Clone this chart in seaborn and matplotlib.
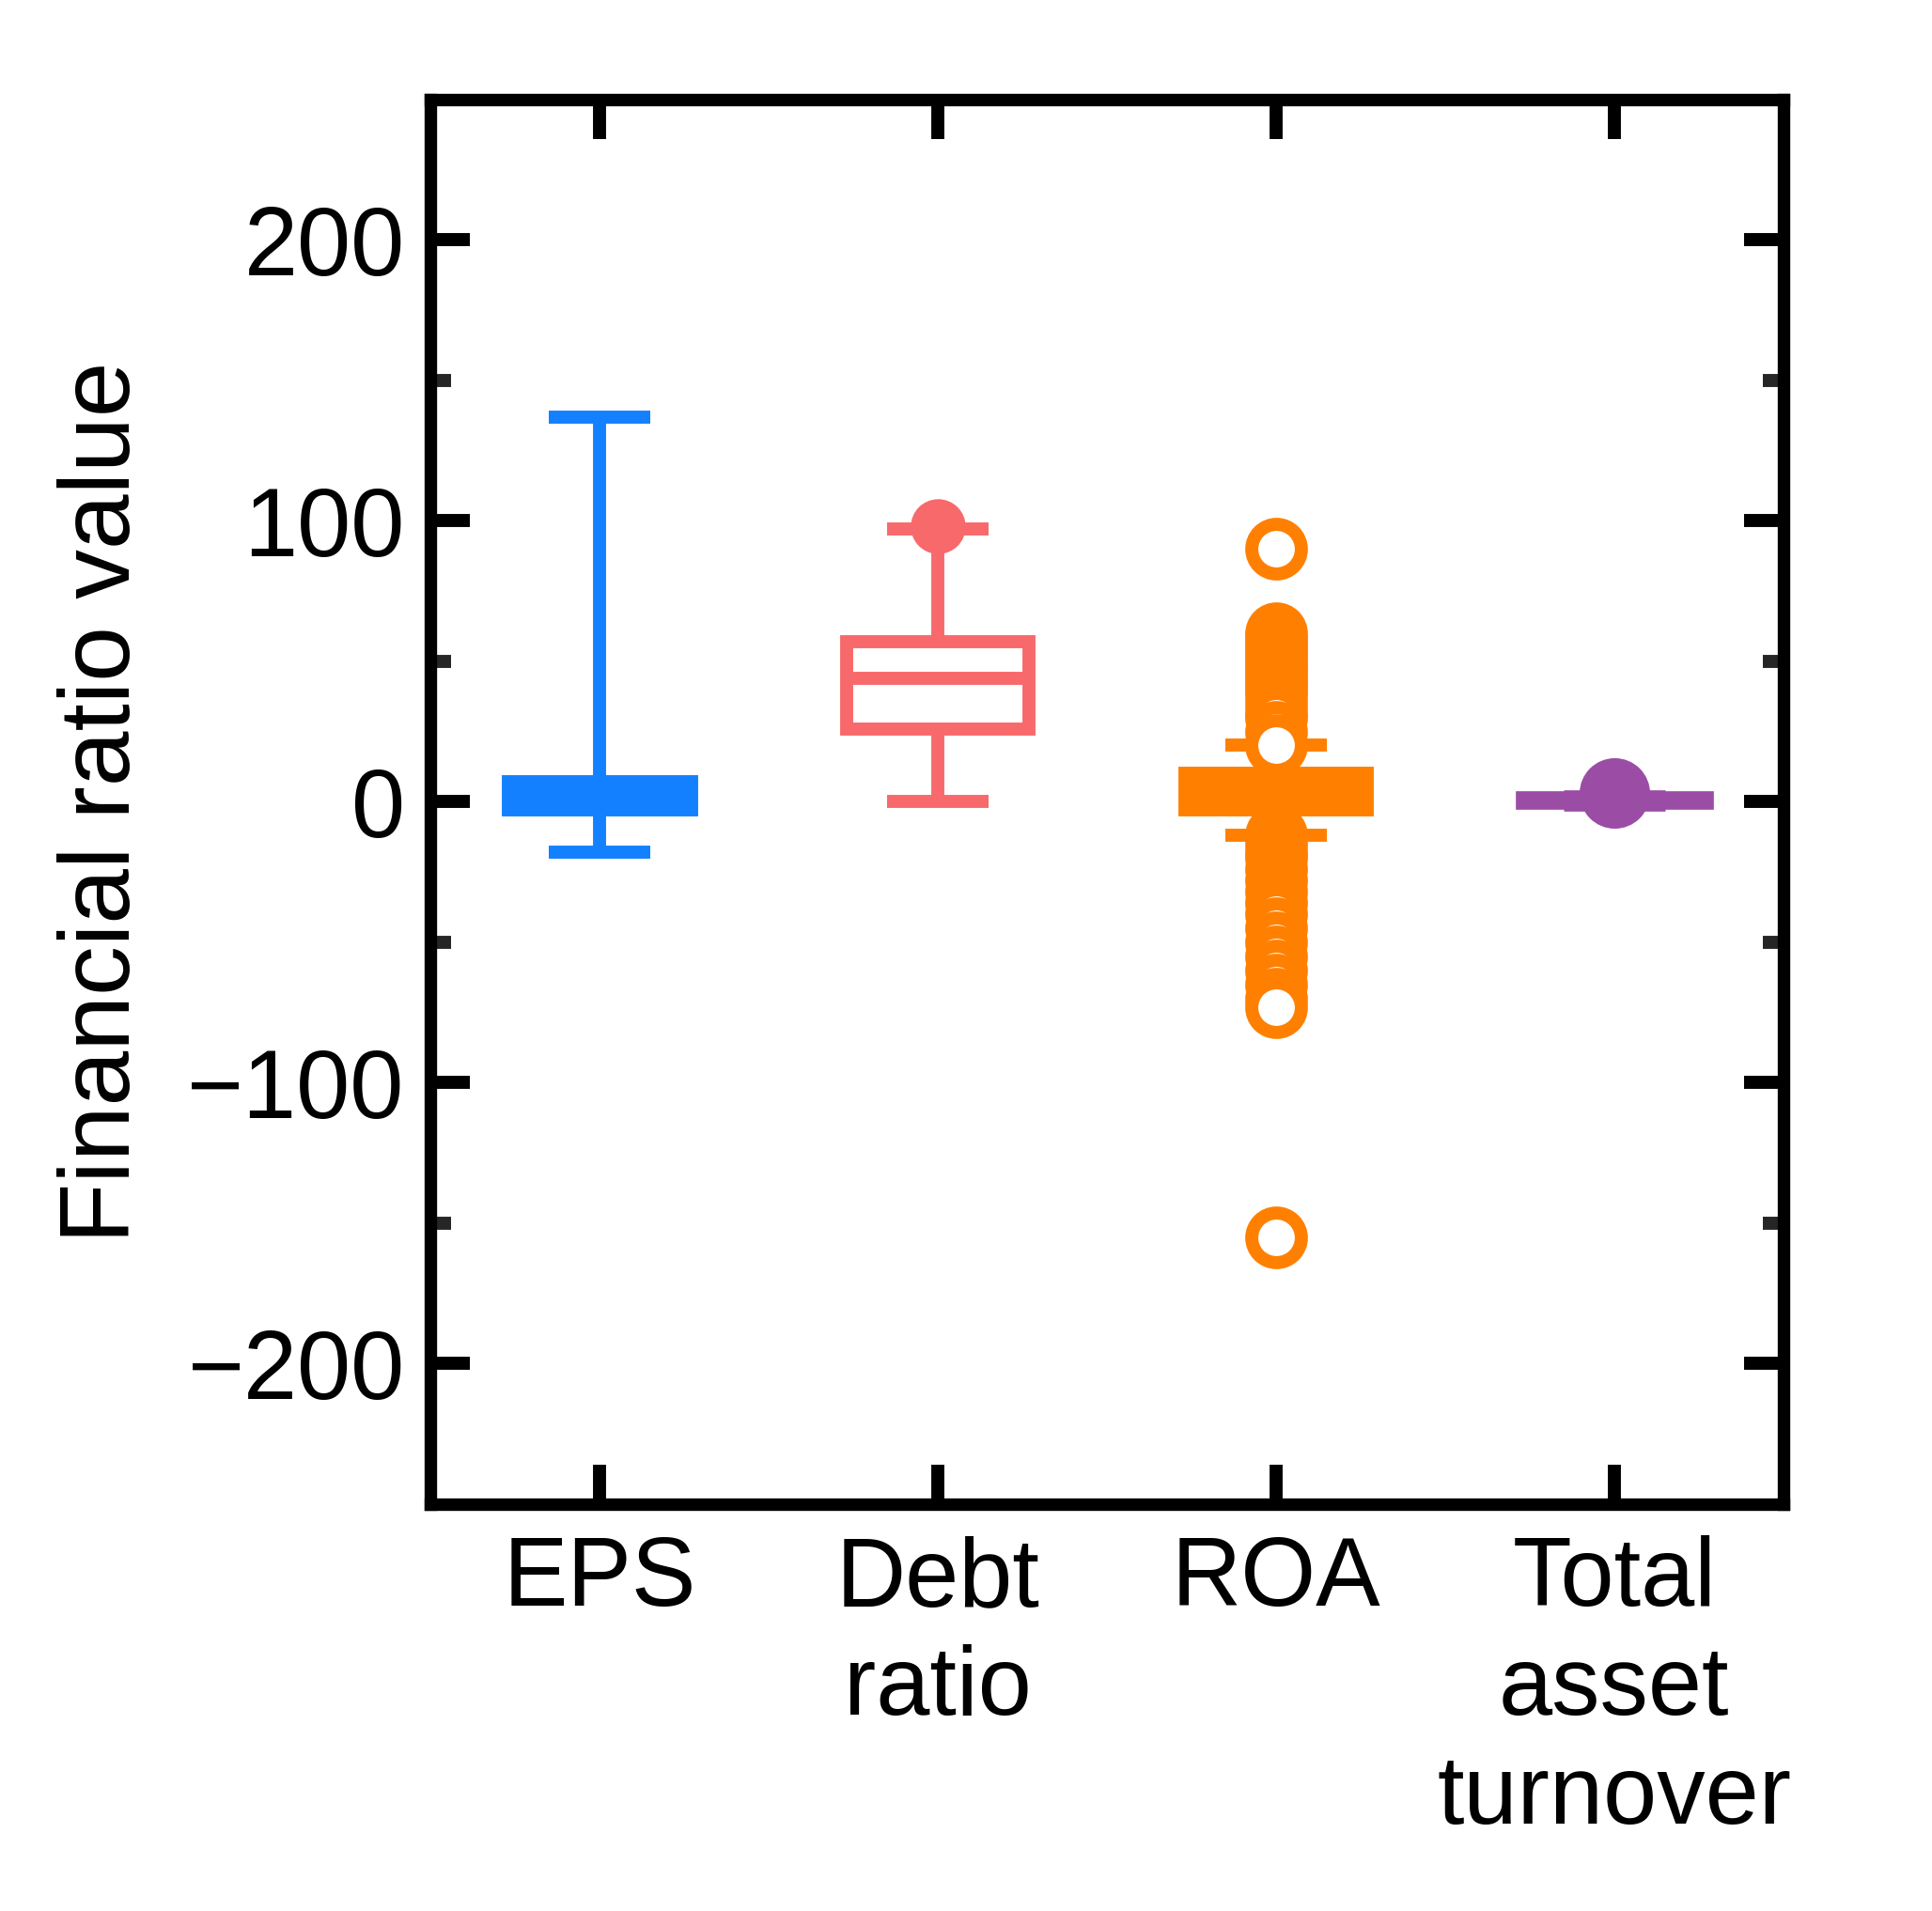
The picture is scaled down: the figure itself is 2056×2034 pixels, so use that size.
import matplotlib
matplotlib.use("Agg")
import matplotlib.pyplot as plt
import seaborn as sns
import numpy as np

sns.set_theme(style="white")
plt.rcParams['font.family'] = ['Liberation Sans', 'DejaVu Sans']

categories = ["EPS", "Debt\nratio", "ROA", "Total\nasset\nturnover"]
colors = ["#1380ff", "#f8696b", "#ff8000", "#9b4da6"]
whislo = [-18, 0, -12, -0.5]
q1 = [-3, 26, -3, 0]
med = [2, 44, 3, 0.5]
q3 = [7, 57, 10, 1]
whishi = [137, 97, 20, 1.5]
fliers = [[], [98], [90, 60, 58, 56, 54, 52, 50, 48, 46, 44, 42, 40, 38, 35, 32, 30, 25, 20,
                    -12, -15, -18, -20, -24, -28, -32, -36, -40, -45, -50, -55, -60, -65, -70, -73, -155],
          [3]]
filled_box = [True, False, True, True]
flier_filled = [True, True, False, True]
flier_size = [0, 16, 19, 22]

fig = plt.figure(figsize=(10.28, 10.17), dpi=200)
ax = fig.add_axes([0.223, 0.213, 0.70, 0.735])

for i in range(4):
    st = [dict(whislo=whislo[i], q1=q1[i], med=med[i], q3=q3[i], whishi=whishi[i], fliers=fliers[i])]
    c = colors[i]
    lw = 5 if i != 3 else 6
    ax.bxp(st, positions=[i], widths=0.54, patch_artist=True, showfliers=True,
           boxprops=dict(facecolor=c if filled_box[i] else "none", edgecolor=c, linewidth=lw),
           medianprops=dict(color=c, linewidth=lw, solid_capstyle="butt"),
           whiskerprops=dict(color=c, linewidth=lw, solid_capstyle="butt"),
           capprops=dict(color=c, linewidth=lw, solid_capstyle="butt"),
           capwidths=0.3,
           flierprops=dict(marker="o", markersize=flier_size[i],
                           markerfacecolor=c if flier_filled[i] else "white",
                           markeredgecolor=c, markeredgewidth=5))

ax.set_xlim(-0.5, 3.5)
ax.set_ylim(-250, 250)
ax.set_xticks(range(4))
ax.set_xticklabels(categories, fontsize=37, linespacing=1.25)
ax.set_yticks([-200, -100, 0, 100, 200])
ax.set_yticklabels(["\u2212200", "\u2212100", "0", "100", "200"], fontsize=37)
ax.set_yticks([-150, -50, 50, 150], minor=True)
ax.set_ylabel("Financial ratio value", fontsize=38, labelpad=14, color="black")
for s in ax.spines.values():
    s.set_linewidth(4.8)
    s.set_color("black")
ax.tick_params(axis="both", which="major", direction="in", length=15, width=5,
               top=True, right=True, bottom=True, left=True, pad=10, colors="black")
ax.tick_params(axis="y", which="minor", direction="in", length=8, width=5, left=True, right=True)
ax.tick_params(axis="x", labelcolor="black", pad=12)
ax.grid(False)
fig.savefig("out.png", dpi=200, facecolor="white")
